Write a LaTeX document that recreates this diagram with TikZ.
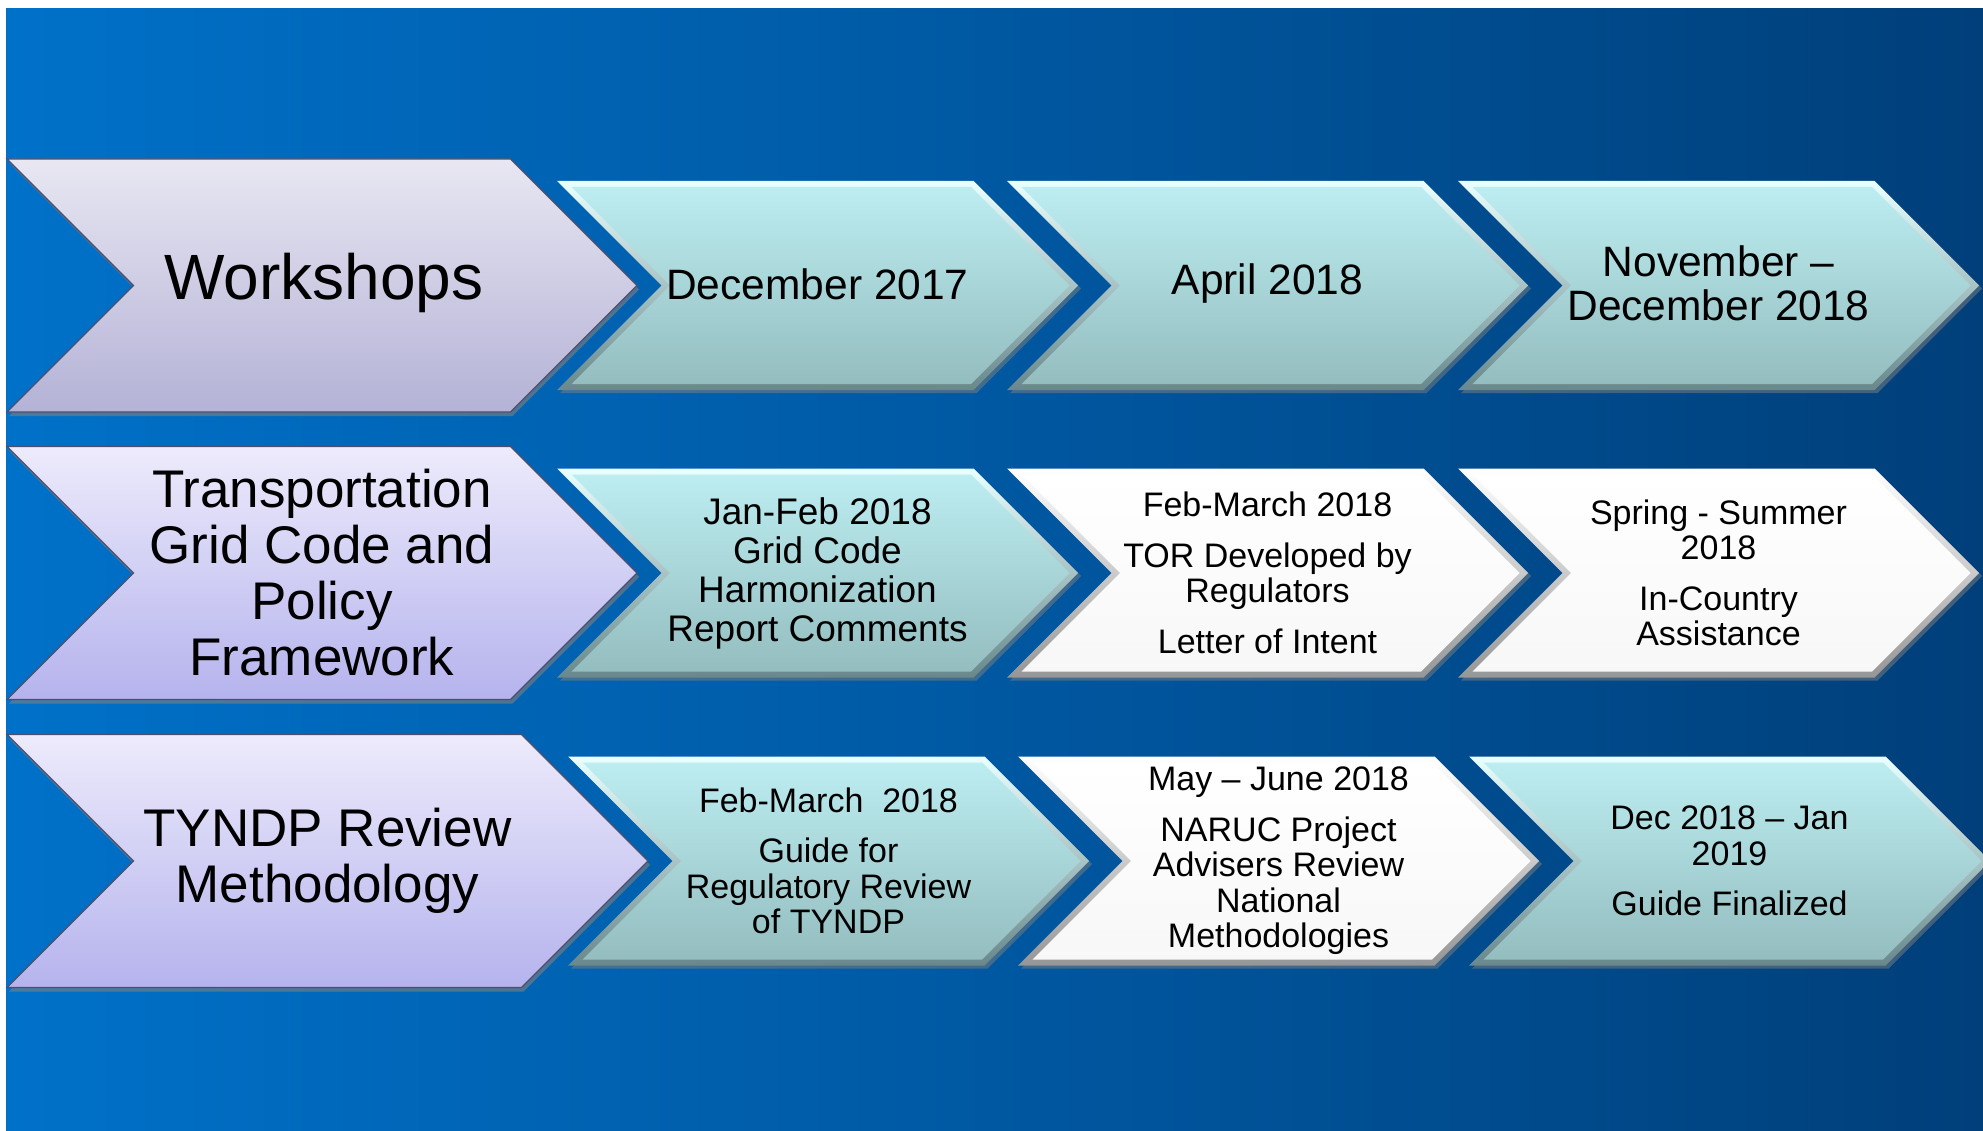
\documentclass[tikz,border=0pt]{standalone}
\usepackage{fontspec}
\setmainfont{Liberation Sans}
\usepackage{tikz}
\usetikzlibrary{shadows}

\definecolor{bgleft}{RGB}{0,113,201}
\definecolor{bgright}{RGB}{0,63,122}
\definecolor{graytop}{RGB}{232,231,242}
\definecolor{graybot}{RGB}{180,178,214}
\definecolor{lavtop}{RGB}{237,235,251}
\definecolor{lavbot}{RGB}{181,179,237}
\definecolor{lavedge}{RGB}{78,78,108}
\definecolor{tealtop}{RGB}{188,237,241}
\definecolor{tealbot}{RGB}{148,189,191}
\definecolor{tealhi}{RGB}{234,255,255}
\definecolor{teallo}{RGB}{104,136,139}
\definecolor{whitelo}{RGB}{150,150,150}

% chevron: [style] left, centre y, width, half height
\newcommand{\chevron}[5][]{%
  \path[#1] ({#2},{#3-#5}) -- ({#2+#4-#5},{#3-#5}) -- ({#2+#4},{#3})
    -- ({#2+#4-#5},{#3+#5}) -- ({#2},{#3+#5}) -- ({#2+#5},{#3}) -- cycle;}
% bevelled step: rim first, face inset on top
\newcommand{\bevel}[3]{%
  \chevron[rim #1]{#2}{#3}{521}{104.5}
  \chevron[face #1]{#2+14.5}{#3}{498}{98.5}}

\begin{document}
\begin{tikzpicture}[x=1pt, y=-1pt,
    lead/.style={drop shadow={opacity=.6, shadow xshift=2pt, shadow yshift=-4pt},
      draw=lavedge, line width=1.2pt},
    rim teal/.style={drop shadow={opacity=.5, shadow xshift=3pt, shadow yshift=-3pt},
      top color=tealhi, bottom color=teallo},
    face teal/.style={top color=tealtop, bottom color=tealbot},
    rim white/.style={drop shadow={opacity=.5, shadow xshift=3pt, shadow yshift=-3pt},
      top color=white, bottom color=whitelo},
    face white/.style={top color=white, bottom color=white!97!black},
    title text/.style={font=\fontsize{53}{56}\selectfont, align=center},
    date text/.style={font=\fontsize{42.5}{44}\selectfont, align=center},
    item text/.style={font=\fontsize{34}{35.5}\selectfont, align=center}]

  \useasboundingbox (0,0) rectangle (1983,1131);
  \fill[white] (0,0) rectangle (1983,1131);
  \shade[left color=bgleft, right color=bgright] (6,9) rectangle (1983,1131);

  % row 1
  \chevron[lead, top color=graytop, bottom color=graybot]{7}{285.5}{630}{126.5}
  \bevel{teal}{557}{285.5}
  \bevel{teal}{1007}{285.5}
  \bevel{teal}{1458}{285.5}

  \node[title text, font=\fontsize{64}{67}\selectfont] (ws) at (324,283) {Workshops};
  \node[date text] (dec17) at (817.5,284) {December 2017};
  \node[date text] (apr18) at (1267.5,284) {April 2018};
  \node[date text] (nov18) at (1718.5,283) {November –\\December 2018};

  % row 2
  \chevron[lead, top color=lavtop, bottom color=lavbot]{7}{573}{630}{126.5}
  \bevel{teal}{557}{573}
  \bevel{white}{1007}{573}
  \bevel{white}{1458}{573}

  \node[title text] (tgc) at (322,573) {Transportation\\Grid Code and\\Policy\\Framework};
  \node[item text, font=\fontsize{37}{39}\selectfont] (janfeb) at (817.5,573)
    {Jan-Feb 2018\\Grid Code\\Harmonization\\Report Comments};
  \node[item text] (tor) at (1267.5,573)
    {Feb-March 2018\\[15pt]TOR Developed by\\Regulators\\[15pt]Letter of Intent};
  \node[item text] (spring) at (1718.5,573)
    {Spring - Summer\\2018\\[15pt]In-Country\\Assistance};

  % row 3
  \chevron[lead, top color=lavtop, bottom color=lavbot]{7}{861}{641}{126.5}
  \bevel{teal}{568}{861}
  \bevel{white}{1018}{861}
  \bevel{teal}{1469}{861}

  \node[title text] (tyndp) at (327.5,861) {TYNDP Review\\Methodology};
  \node[item text] (guide) at (828.5,861)
    {Feb-March~~2018\\[15pt]Guide for\\Regulatory Review\\of TYNDP};
  \node[item text] (naruc) at (1278.5,861)
    {May – June 2018\\[15pt]NARUC Project\\Advisers Review\\National\\Methodologies};
  \node[item text] (final) at (1729.5,861)
    {Dec 2018 – Jan\\2019\\[15pt]Guide Finalized};
\end{tikzpicture}
\end{document}
